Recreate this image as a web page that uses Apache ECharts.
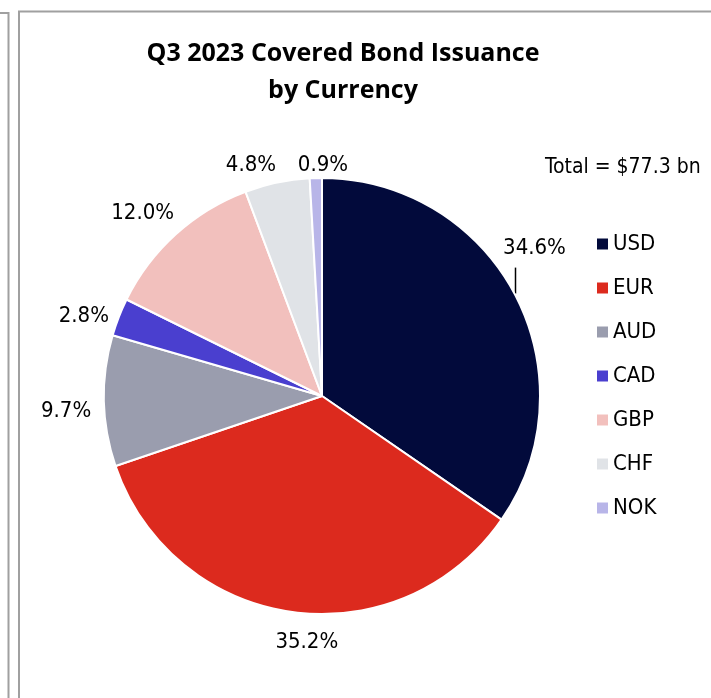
<!DOCTYPE html>
<html><head><meta charset="utf-8">
<script src="https://cdn.jsdelivr.net/npm/echarts@6/dist/echarts.min.js"></script>
<style>html,body{margin:0;padding:0;background:#fff}#c{width:711px;height:698px}</style>
</head><body><div id="c"></div>
<script>
const categories = ['USD','EUR','AUD','CAD','GBP','CHF','NOK'];
const shares = [34.6, 35.2, 9.7, 2.8, 12.0, 4.8, 0.9];
const colors = ['#020A3B','#DC2A1E','#9A9DAE','#4A3FCF','#F2C0BD','#E0E3E7','#B8B5E8'];
const titleText = 'Q3 2023 Covered Bond Issuance\nby Currency';
const totalText = 'Total = $77.3 bn';

const CENTER = [322, 396], RADIUS = 218;
// fine label nudges (style only), relative to a radial anchor 30px outside the arc
const labelNudge = [[0,0],[19,1],[-8,10],[-7,10],[-13,1],[-20,12],[8,17]];

const total = shares.reduce((a, b) => a + b, 0);
const midAngles = [];
{ let cum = 0; shares.forEach(v => { midAngles.push((cum + v / 2) / total * 2 * Math.PI); cum += v; }); }

const chart = echarts.init(document.getElementById('c'));
const FONT = '"DejaVu Sans Condensed", "Liberation Sans Narrow", "Liberation Sans", sans-serif';
chart.setOption({
  animation: false,
  title: {
    text: titleText, left: 338, top: 30, textAlign: 'center',
    textStyle: {fontFamily: '"Open Sans", sans-serif', fontWeight: 'bold', fontSize: 25, lineHeight: 37, color: '#000'}
  },
  legend: {
    orient: 'vertical', left: 592, top: 228,
    icon: 'rect', itemWidth: 11, itemHeight: 11, itemGap: 22,
    itemStyle: {borderWidth: 0},
    textStyle: {fontFamily: FONT, fontSize: 22, lineHeight: 22, color: '#000'},
    data: categories
  },
  graphic: [
    {type: 'text', x: 545, y: 168, style: {text: totalText, font: '21px ' + FONT, fill: '#000', textVerticalAlign: 'middle'}},
    {type: 'polyline', shape: {points: [[0,13],[8.5,13],[8.5,698]]}, style: {stroke: '#a0a0a0', lineWidth: 2, fill: null}},
    {type: 'polyline', shape: {points: [[19,698],[19,11.5],[711,11.5]]}, style: {stroke: '#a0a0a0', lineWidth: 2, fill: null}}
  ],
  series: [{
    type: 'pie',
    center: CENTER, radius: RADIUS,
    startAngle: 90, clockwise: true,
    avoidLabelOverlap: false,
    itemStyle: {borderColor: '#fff', borderWidth: 2},
    label: {
      show: true, position: 'outside', formatter: p => p.value.toFixed(1) + '%',
      fontFamily: FONT, fontSize: 22, color: '#000'
    },
    labelLine: {show: false, length: 14, length2: 0},
    labelLayout: function (params) {
      const i = params.dataIndex;
      const a = midAngles[i];
      const dx = Math.sin(a), dy = -Math.cos(a);
      if (i === 0) {
        const px = Math.round(CENTER[0] + RADIUS * dx) + 0.5, py = CENTER[1] + RADIUS * dy;
        return {
          x: px + 19, y: py - 46, align: 'center', verticalAlign: 'middle', hideOverlap: false,
          labelLinePoints: [[px, py - 1], [px, py - 27], [px, py - 27]]
        };
      }
      const R = RADIUS + 30;
      return {
        x: CENTER[0] + R * dx + labelNudge[i][0],
        y: CENTER[1] + R * dy + labelNudge[i][1],
        align: 'center', verticalAlign: 'middle', hideOverlap: false, moveOverlap: null
      };
    },
    emphasis: {disabled: true},
    data: categories.map((c, i) => ({
      name: c, value: shares[i], itemStyle: {color: colors[i]},
      labelLine: i === 0 ? {show: true, length: 28, length2: 0, lineStyle: {color: '#000', width: 1.5}} : undefined
    }))
  }]
});
</script></body></html>
